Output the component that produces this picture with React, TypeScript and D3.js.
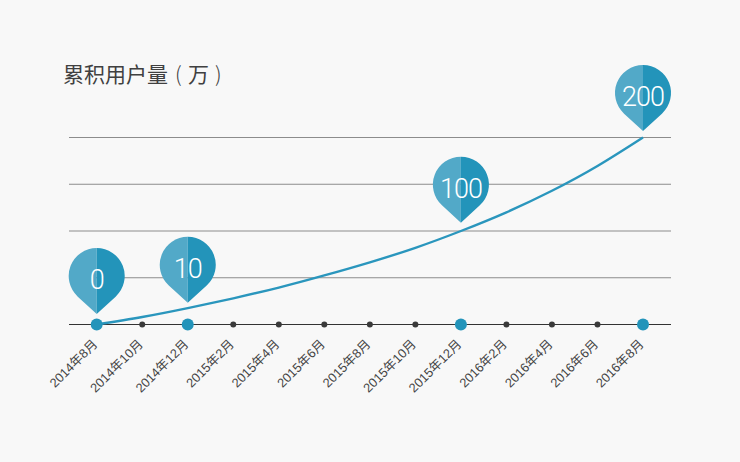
import { useMemo } from "react"
import * as d3 from "d3"

const months = [
  "2014年8月", "2014年10月", "2014年12月", "2015年2月", "2015年4月", "2015年6月", "2015年8月",
  "2015年10月", "2015年12月", "2016年2月", "2016年4月", "2016年6月", "2016年8月",
]
// plotted height of the curve
const curveValues = [0, 8, 17.5, 28, 39.5, 52.5, 66.5, 82, 100, 120, 143, 169.5, 200]
const gridTicks = [50, 100, 150, 200]
const pinMonths = ["2014年8月", "2014年12月", "2015年12月", "2016年8月"]
const pinLabels = ["0", "10", "100", "200"]

const FONT = "'Noto Sans CJK SC', 'Noto Sans', sans-serif"
const LABEL_FONT = "'Liberation Sans', 'Noto Sans CJK SC', sans-serif"

// pin outline, relative to the tip: circle on top, straight sides into the tip
const R = 28
const TIP_TO_CENTRE = 38
// how far each pin floats above the curve
const PIN_GAP = [10.5, 5.3, 8.3, 6.5]

const halfPin = (side: number) => {
  const phi = Math.acos(R / TIP_TO_CENTRE)
  const ex = side * R * Math.sin(phi)
  const ey = -TIP_TO_CENTRE + R * Math.cos(phi)
  return `M0,0L0,${-TIP_TO_CENTRE - R}A${R},${R} 0 0 ${side > 0 ? 1 : 0} ${ex},${ey}Z`
}

export default function App() {
  const x = useMemo(() => d3.scalePoint<string>().domain(months).range([96.7, 643]), [])
  const y = useMemo(() => d3.scaleLinear().domain([0, 200]).range([324.5, 137.5]), [])

  const line = d3
    .line<number>()
    .x((_, i) => x(months[i]) as number)
    .y((d) => y(d))
    .curve(d3.curveNatural)

  return (
    <svg
      width={740}
      height={462}
      style={{ position: "absolute", left: 0, top: 0, background: "#f8f8f8" }}
    >
      <text y={82} fontFamily={FONT} fontSize={21} fill="#404040">
        <tspan x={63}>累积用户量</tspan>
        <tspan x={175} fontWeight={300}>(</tspan>
        <tspan x={188}>万</tspan>
        <tspan x={215} fontWeight={300}>)</tspan>
      </text>

      {gridTicks.map((t) => (
        <line key={t} x1={69} x2={671} y1={y(t)} y2={y(t)} stroke="#8c8c8c" strokeWidth={1} />
      ))}
      <line x1={69} x2={671} y1={y(0)} y2={y(0)} stroke="#333333" strokeWidth={1.2} />

      <path d={line(curveValues) ?? ""} fill="none" stroke="#2a96bd" strokeWidth={2.4} />

      {months.map((m) => {
        const major = pinMonths.includes(m)
        return (
          <g key={m}>
            <circle cx={x(m)} cy={y(0)} r={major ? 6 : 3} fill={major ? "#2394ba" : "#3a3a3a"} />
            <text
              transform={`translate(${(x(m) as number) + 1.5},${y(0) + 20.5}) rotate(-45)`}
              textAnchor="end"
              fontFamily={LABEL_FONT}
              fontSize={12.8}
              fill="#444444"
            >
              {m}
            </text>
          </g>
        )
      })}

      {pinMonths.map((m, i) => {
        const idx = months.indexOf(m)
        return (
          <g key={m} transform={`translate(${x(m)},${y(curveValues[idx]) - PIN_GAP[i]})`}>
            <path d={halfPin(-1)} fill="#52a9c8" />
            <path d={halfPin(1)} fill="#2394ba" />
            <text
              y={-34.5}
              dy="0.35em"
              textAnchor="middle"
              fontFamily="Roboto, sans-serif"
              fontWeight={300}
              fontSize={27}
              letterSpacing={-1}
              fill="#ffffff"
            >
              {pinLabels[i]}
            </text>
          </g>
        )
      })}
    </svg>
  )
}
